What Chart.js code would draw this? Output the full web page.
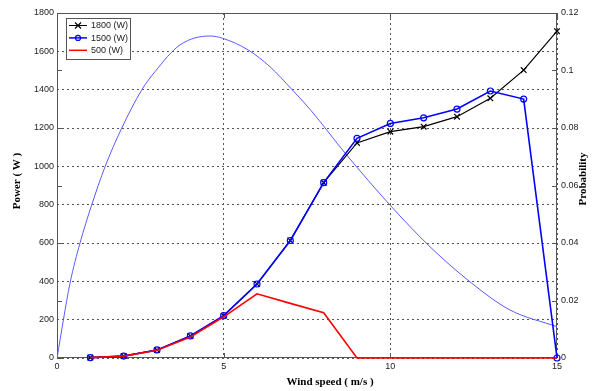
<!DOCTYPE html>
<html lang="en">
<head>
  <meta charset="UTF-8" />
  <title>Power and probability vs wind speed</title>
  <script src="https://cdn.jsdelivr.net/npm/chart.js"></script>
  <style>
    html, body { margin: 0; padding: 0; background: #fff; }
    #wrap { width: 597px; height: 391px; }
  </style>
</head>
<body>
  <div id="wrap"><canvas id="chartPower" width="597" height="391"></canvas></div>

<script>
  // wind speed (m/s) for the power curves
  const windSpeed = [1, 2, 3, 4, 5, 6, 7, 8, 9, 10, 11, 12, 13, 14, 15];
  const power1800 = [2, 10, 42, 115, 221, 386, 613, 915, 1122, 1181, 1207, 1259, 1355, 1502, 1705];
  const power1500 = [2, 10, 42, 115, 221, 386, 613, 915, 1146, 1224, 1253, 1299, 1393, 1351, 0];
  const power500  = [2, 10, 40, 110, 215, 335, 285, 236, 0, 0, 0, 0, 0, 0, 0];

  // probability curve
  const probSpeed = [0, 0.39, 0.69, 1.04, 1.44, 1.94, 2.54, 2.94, 3.69, 4.59, 4.97, 5.74, 6.39, 7.04, 7.59, 8.69, 9.99, 11.19, 12.39, 13.59, 15];
  const probValue = [0, 0.026, 0.040, 0.0532, 0.0665, 0.0799, 0.0932, 0.0996, 0.1089, 0.1120, 0.1112, 0.1071, 0.1013, 0.0935, 0.0865, 0.0706, 0.0532, 0.0387, 0.0265, 0.0167, 0.0109];

  const xTicks = [0, 5, 10, 15];
  const probTicks = [0, 0.02, 0.04, 0.06, 0.08, 0.1, 0.12];

  const pts = (xs, ys) => xs.map((x, i) => ({ x: x, y: ys[i] }));

  const sansFont = 'Arial, "Liberation Sans", sans-serif';
  const serifFont = '"Times New Roman", "Liberation Serif", serif';

  const legendItems = [
    { text: '1800 (W)', color: '#000000', marker: 'cross', width: 1 },
    { text: '1500 (W)', color: '#0000ff', marker: 'circle', width: 1.5 },
    { text: '500 (W)',  color: '#ff0000', marker: null, width: 1.5 }
  ];

  // frame, inward ticks, axis titles and legend
  const decorations = {
    id: 'decorations',
    beforeDatasetsDraw(chart) {
      const ctx = chart.ctx;
      const a = chart.chartArea;
      const x = chart.scales.x;
      const y1 = chart.scales.y1;
      ctx.save();
      ctx.strokeStyle = '#555';
      ctx.lineWidth = 1;
      ctx.strokeRect(a.left + 0.5, a.top + 0.5, a.right - a.left - 1, a.bottom - a.top - 1);
      ctx.beginPath();
      probTicks.forEach(v => {
        const py = Math.round(y1.getPixelForValue(v)) + 0.5;
        ctx.moveTo(a.left, py); ctx.lineTo(a.left + 5, py);
        ctx.moveTo(a.right, py); ctx.lineTo(a.right - 5, py);
      });
      xTicks.forEach(v => {
        const px = Math.round(x.getPixelForValue(v)) + 0.5;
        ctx.moveTo(px, a.bottom); ctx.lineTo(px, a.bottom - 5);
        ctx.moveTo(px, a.top); ctx.lineTo(px, a.top + 5);
      });
      ctx.stroke();
      ctx.restore();
    },
    afterDraw(chart) {
      const ctx = chart.ctx;
      ctx.save();

      // axis titles
      ctx.fillStyle = '#000';
      ctx.font = 'bold 11px ' + serifFont;
      ctx.textAlign = 'center';
      ctx.textBaseline = 'middle';
      ctx.fillText('Wind speed ( m/s )', 330, 382);

      ctx.save();
      ctx.translate(17, 181);
      ctx.rotate(-Math.PI / 2);
      ctx.fillText('Power ( W )', 0, 0);
      ctx.restore();

      ctx.save();
      ctx.translate(583, 179);
      ctx.rotate(-Math.PI / 2);
      ctx.fillText('Probability', 0, 0);
      ctx.restore();

      // legend box
      ctx.fillStyle = '#fff';
      ctx.fillRect(66, 18, 64, 41);
      ctx.strokeStyle = '#555';
      ctx.lineWidth = 1;
      ctx.strokeRect(66.5, 18.5, 64, 41);
      ctx.font = '9px ' + sansFont;
      ctx.textAlign = 'left';
      legendItems.forEach((item, i) => {
        const ly = 25.5 + i * 12.4;
        ctx.strokeStyle = item.color;
        ctx.lineWidth = item.width;
        ctx.beginPath();
        ctx.moveTo(69, ly); ctx.lineTo(87, ly);
        ctx.stroke();
        ctx.lineWidth = 1.2;
        if (item.marker === 'cross') {
          ctx.beginPath();
          ctx.moveTo(75, ly - 3); ctx.lineTo(81, ly + 3);
          ctx.moveTo(75, ly + 3); ctx.lineTo(81, ly - 3);
          ctx.stroke();
        } else if (item.marker === 'circle') {
          ctx.beginPath();
          ctx.arc(78, ly, 2.5, 0, Math.PI * 2);
          ctx.stroke();
        }
        ctx.fillStyle = '#222';
        ctx.fillText(item.text, 91, ly + 0.5);
      });

      ctx.restore();
    }
  };

  new Chart(document.getElementById('chartPower'), {
    type: 'line',
    data: {
      datasets: [
        {
          label: '1800 (W)',
          data: pts(windSpeed, power1800),
          borderColor: '#000000',
          borderWidth: 1.2,
          pointStyle: 'crossRot',
          pointRadius: 4,
          pointBorderColor: '#000000',
          pointBorderWidth: 1.2,
          clip: 5,
          yAxisID: 'y',
          order: 3
        },
        {
          label: '1500 (W)',
          data: pts(windSpeed, power1500),
          borderColor: '#0000ff',
          borderWidth: 1.6,
          pointStyle: 'circle',
          pointRadius: 3,
          pointBackgroundColor: 'rgba(0,0,0,0)',
          pointBorderColor: '#0000ff',
          pointBorderWidth: 1.2,
          clip: 5,
          yAxisID: 'y',
          order: 2
        },
        {
          label: '500 (W)',
          data: pts(windSpeed, power500),
          borderColor: '#ff0000',
          borderWidth: 1.6,
          pointRadius: 0,
          clip: 5,
          yAxisID: 'y',
          order: 1
        },
        {
          label: 'Probability',
          data: pts(probSpeed, probValue),
          borderColor: '#5a5aff',
          borderWidth: 1,
          pointRadius: 0,
          cubicInterpolationMode: 'monotone',
          yAxisID: 'y1',
          order: 4
        }
      ]
    },
    options: {
      responsive: false,
      animation: false,
      layout: { padding: { top: 13, left: 0, right: 0, bottom: 0 } },
      plugins: {
        legend: { display: false },
        tooltip: { enabled: false }
      },
      scales: {
        x: {
          type: 'linear',
          min: 0, max: 15,
          afterBuildTicks: s => { s.ticks = xTicks.map(v => ({ value: v })); },
          afterFit: s => { s.height = 33; },
          grid: { color: '#555', drawTicks: false },
          border: { display: false, dash: [2, 3] },
          ticks: { padding: 3, color: '#222', font: { size: 9, family: sansFont }, callback: v => String(v) }
        },
        y: {
          position: 'left',
          min: 0, max: 1800,
          ticks: { stepSize: 200, padding: 3, color: '#222', font: { size: 9, family: sansFont }, callback: v => String(v) },
          afterFit: s => { s.width = 57; },
          grid: { color: '#555', drawTicks: false },
          border: { display: false, dash: [2, 3] }
        },
        y1: {
          position: 'right',
          min: 0, max: 0.12,
          afterBuildTicks: s => { s.ticks = probTicks.map(v => ({ value: v })); },
          afterFit: s => { s.width = 40; },
          grid: { drawOnChartArea: false, drawTicks: false },
          border: { display: false },
          ticks: {
            padding: 4, color: '#222', font: { size: 9, family: sansFont },
            callback: v => String(+v.toFixed(2))
          }
        }
      }
    },
    plugins: [decorations]
  });
</script>
</body>
</html>
